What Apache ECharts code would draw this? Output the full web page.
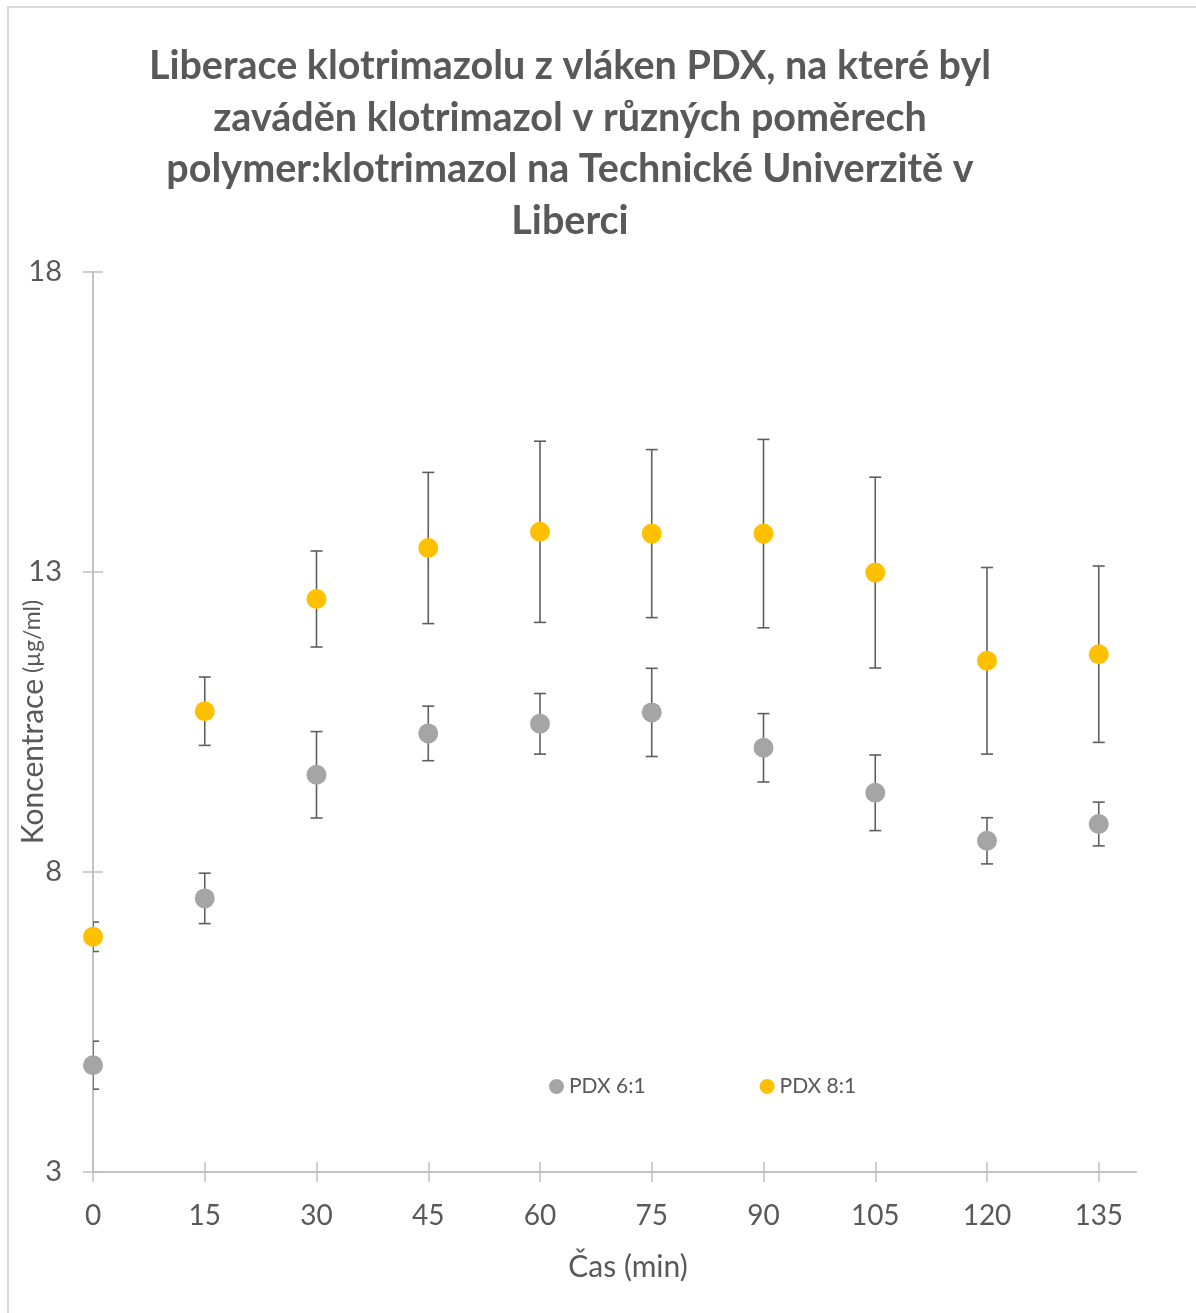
<!DOCTYPE html>
<html>
<head>
<meta charset="utf-8">
<script src="https://cdn.jsdelivr.net/npm/echarts@6/dist/echarts.min.js"></script>
<style>
  html, body { margin: 0; padding: 0; background: #ffffff; }
  #chart { width: 1196px; height: 1313px; }
</style>
</head>
<body>
<div id="chart"></div>
<script>
// Sampling times (min)
var times = [0, 15, 30, 45, 60, 75, 90, 105, 120, 135];

// Mean concentrations (µg/ml) and standard deviations
var pdx61 = [4.78, 7.56, 9.62, 10.31, 10.47, 10.66, 10.07, 9.32, 8.52, 8.80];
var pdx61Sd = [0.40, 0.42, 0.72, 0.455, 0.505, 0.735, 0.57, 0.63, 0.385, 0.365];
var pdx81 = [6.92, 10.68, 12.55, 13.40, 13.67, 13.64, 13.64, 12.99, 11.52, 11.63];
var pdx81Sd = [0.245, 0.57, 0.80, 1.26, 1.51, 1.40, 1.57, 1.59, 1.555, 1.47];

// Axis ticks
var xTicks = [0, 15, 30, 45, 60, 75, 90, 105, 120, 135];
var yTicks = [3, 8, 13, 18];

var seriesNames = ['PDX 6:1', 'PDX 8:1'];
var seriesColors = ['#a5a5a5', '#ffc000'];

var chartTitle = 'Liberace klotrimazolu z vláken PDX, na které byl\nzaváděn klotrimazol v různých poměrech\npolymer:klotrimazol na Technické Univerzitě v\nLiberci';

var FONT = 'Lato, "Open Sans", sans-serif';
var TEXT = '#595959';
var AXIS = '#bfbfbf';

function points(ys, sds) {
  return times.map(function (t, i) { return [t, ys[i], sds[i]]; });
}

// Vertical error bar with flat caps
function errorBar(params, api) {
  var x = api.value(0), y = api.value(1), sd = api.value(2);
  var hi = api.coord([x, y + sd]);
  var lo = api.coord([x, y - sd]);
  var half = 6;
  var style = { stroke: '#5f5f5f', lineWidth: 1.6 };
  return {
    type: 'group',
    children: [
      { type: 'line', shape: { x1: hi[0], y1: hi[1], x2: lo[0], y2: lo[1] }, style: style },
      { type: 'line', shape: { x1: hi[0] - half, y1: hi[1], x2: hi[0] + half, y2: hi[1] }, style: style },
      { type: 'line', shape: { x1: lo[0] - half, y1: lo[1], x2: lo[0] + half, y2: lo[1] }, style: style }
    ]
  };
}

var chart = echarts.init(document.getElementById('chart'), null, { renderer: 'canvas' });

var xBase = {
  type: 'value', min: 0, max: 140, position: 'bottom',
  axisLine: { show: true, onZero: false, lineStyle: { color: AXIS, width: 1.5 } },
  splitLine: { show: false }
};
var yBase = {
  type: 'value', min: 3, max: 18, position: 'left',
  axisLine: { show: true, onZero: false, lineStyle: { color: AXIS, width: 1.5 } },
  splitLine: { show: false }
};

var option = {
  backgroundColor: '#ffffff',
  animation: false,
  graphic: [
    {
      type: 'rect',
      shape: { x: 8, y: 7, width: 1400, height: 1500 },
      style: { fill: 'none', stroke: '#d9d9d9', lineWidth: 2 },
      silent: true, z: -10
    },
    {
      // chart title, centred over the plot
      type: 'text', x: 570, y: 41, silent: true,
      style: {
        text: chartTitle, align: 'center', verticalAlign: 'top',
        fontFamily: FONT, fontWeight: 'bold', fontSize: 39.5,
        lineHeight: 51.5, fill: TEXT
      }
    }
  ],
  legend: {
    data: seriesNames,
    left: 549, top: 1076, padding: 0,
    icon: 'circle', itemWidth: 15, itemHeight: 15, itemGap: 114,
    textStyle: { fontFamily: FONT, fontSize: 21, color: TEXT }
  },
  grid: { left: 93, top: 272, right: 60, bottom: 141, containLabel: false, outerBoundsMode: 'none' },
  xAxis: [
    Object.assign({}, xBase, {
      name: 'Čas (min)', nameLocation: 'middle', nameGap: 80, nameMoveOverlap: false,
      nameTextStyle: { fontFamily: FONT, fontSize: 30, color: TEXT, padding: [0, 0, 0, 27] },
      axisTick: { show: true, inside: false, length: 10, customValues: xTicks, lineStyle: { color: AXIS, width: 1.5 } },
      axisLabel: { show: true, margin: 30, customValues: xTicks, fontFamily: FONT, fontSize: 28, color: TEXT }
    }),
    Object.assign({}, xBase, {
      axisTick: { show: true, inside: true, length: 10, customValues: xTicks, lineStyle: { color: AXIS, width: 1.5 } },
      axisLabel: { show: false }
    })
  ],
  yAxis: [
    Object.assign({}, yBase, {
      name: '{a|Koncentrace}{b| (µg/ml)}', nameLocation: 'middle', nameGap: 45, nameMoveOverlap: false,
      nameTextStyle: {
        color: TEXT,
        rich: {
          a: { fontFamily: FONT, fontSize: 30, color: TEXT },
          b: { fontFamily: FONT, fontSize: 23, color: TEXT }
        }
      },
      axisTick: { show: true, inside: false, length: 10, customValues: yTicks, lineStyle: { color: AXIS, width: 1.5 } },
      axisLabel: { show: true, margin: 31, customValues: yTicks, fontFamily: FONT, fontSize: 29, color: TEXT }
    }),
    Object.assign({}, yBase, {
      axisTick: { show: true, inside: true, length: 10, customValues: yTicks, lineStyle: { color: AXIS, width: 1.5 } },
      axisLabel: { show: false }
    })
  ],
  series: [
    {
      type: 'custom', name: seriesNames[0] + ' SD', renderItem: errorBar,
      data: points(pdx61, pdx61Sd), encode: { x: 0, y: 1 }, clip: true, z: 2, silent: true
    },
    {
      type: 'custom', name: seriesNames[1] + ' SD', renderItem: errorBar,
      data: points(pdx81, pdx81Sd), encode: { x: 0, y: 1 }, clip: true, z: 2, silent: true
    },
    {
      type: 'scatter', name: seriesNames[0], symbol: 'circle', symbolSize: 20,
      itemStyle: { color: seriesColors[0], opacity: 1 },
      data: times.map(function (t, i) { return [t, pdx61[i]]; }), z: 3
    },
    {
      type: 'scatter', name: seriesNames[1], symbol: 'circle', symbolSize: 20,
      itemStyle: { color: seriesColors[1], opacity: 1 },
      data: times.map(function (t, i) { return [t, pdx81[i]]; }), z: 3
    }
  ]
};

chart.setOption(option);
</script>
</body>
</html>
